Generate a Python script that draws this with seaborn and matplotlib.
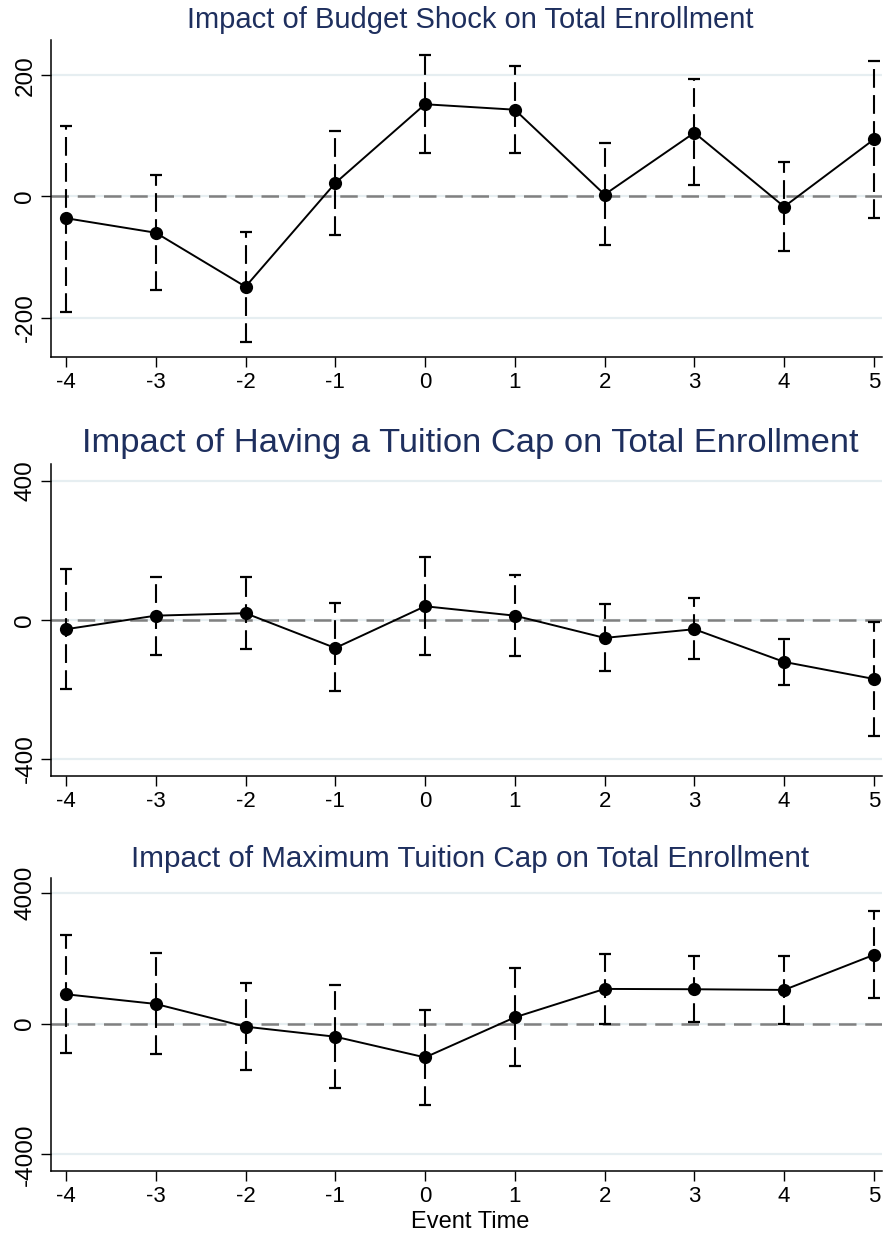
import matplotlib
matplotlib.use('Agg')
import matplotlib.pyplot as plt
import seaborn as sns
import numpy as np
import pandas as pd

sns.set_style('white')
plt.rcParams['font.family'] = ['Liberation Sans', 'DejaVu Sans']

event_time = [-4, -3, -2, -1, 0, 1, 2, 3, 4, 5]

# budget shock
budget_coef = [-36, -60, -149, 22, 152, 143, 3, 105, -17, 94]
budget_lo = [-191, -155, -240, -64, 71, 71, -80, 18, -90, -36]
budget_hi = [116, 36, -58, 108, 234, 215, 88, 193, 56, 224]

# having a tuition cap
cap_coef = [-27, 12, 19, -81, 39, 12, -52, -27, -121, -170]
cap_lo = [-200, -101, -85, -204, -100, -104, -147, -114, -187, -333]
cap_hi = [147, 124, 124, 47, 180, 128, 45, 62, -54, -6]

# maximum tuition cap
max_coef = [900, 604, -92, -399, -1033, 194, 1064, 1054, 1033, 2107]
max_lo = [-890, -931, -1422, -1974, -2476, -1299, 0, 51, 0, 798]
max_hi = [2700, 2158, 1258, 1187, 419, 1698, 2128, 2066, 2087, 3437]

panels = [
    dict(title='Impact of Budget Shock on Total Enrollment', size=21, ty=28,
         coef=budget_coef, lo=budget_lo, hi=budget_hi,
         ticks=[-200, 0, 200], ylim=(-265, 258), rect=(40, 357)),
    dict(title='Impact of Having a Tuition Cap on Total Enrollment', size=24.8, ty=452,
         coef=cap_coef, lo=cap_lo, hi=cap_hi,
         ticks=[-400, 0, 400], ylim=(-449, 448), rect=(464, 776)),
    dict(title='Impact of Maximum Tuition Cap on Total Enrollment', size=21.3, ty=867,
         coef=max_coef, lo=max_lo, hi=max_hi,
         ticks=[-4000, 0, 4000], ylim=(-4511, 4460), rect=(878, 1171)),
]

W, H = 883, 1236
fig = plt.figure(figsize=(W / 100, H / 100), dpi=100)
title_color = '#1e2f5e'
grid_color = '#e6eef1'

for i, p in enumerate(panels):
    top, bot = p['rect']
    ax = fig.add_axes([51 / W, 1 - bot / H, (882 - 51) / W, (bot - top) / H])
    df = pd.DataFrame({'t': event_time, 'b': p['coef'], 'lo': p['lo'], 'hi': p['hi']})

    for yt in p['ticks']:
        ax.axhline(yt, color=grid_color, lw=1.6, zorder=0)
    ax.axhline(0, color='#808080', lw=1.8, ls=(0, (7, 3.5)), zorder=1)

    eb = ax.errorbar(df['t'], df['b'], yerr=[df['b'] - df['lo'], df['hi'] - df['b']],
                     fmt='none', ecolor='black', elinewidth=1.5, capsize=4,
                     capthick=1.6, zorder=2)
    eb[2][0].set_linestyle((0, (9, 3.5)))

    sns.lineplot(data=df, x='t', y='b', ax=ax, color='black', lw=1.4,
                 marker='o', markersize=9.5, markeredgewidth=0, zorder=3)

    ax.set_xlim(-4.167, 5.09)
    ax.set_ylim(*p['ylim'])
    ax.set_xticks(event_time)
    ax.set_xticklabels([str(t) for t in event_time], fontsize=16)
    ax.set_yticks(p['ticks'])
    ax.set_yticklabels([str(t) for t in p['ticks']], rotation=90, va='center', fontsize=17.5)
    ax.tick_params(axis='both', direction='out', length=7, width=1, color='black',
                   labelcolor='black', pad=3.5, left=True, bottom=True)
    for s in ['top', 'right']:
        ax.spines[s].set_visible(False)
    for s in ['left', 'bottom']:
        ax.spines[s].set_color('black')
        ax.spines[s].set_linewidth(1.1)
    ax.set_ylabel('')
    ax.set_xlabel('')

    fig.text(470 / W, 1 - p['ty'] / H, p['title'], ha='center', va='baseline',
             fontsize=p['size'], color=title_color)

fig.text(470 / W, 1 - 1228 / H, 'Event Time', ha='center', va='baseline',
         fontsize=17, color='black')

fig.savefig('out.png', dpi=100)
